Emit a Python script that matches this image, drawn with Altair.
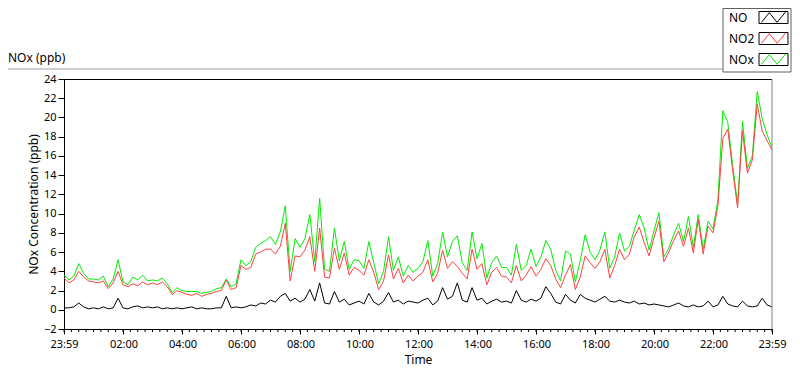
import altair as alt
import pandas as pd

# ---- data (10-minute samples, minutes since 23:59 of previous day) ----
minutes = list(range(0, 1441, 10))

no2 = [
    3.3, 2.8, 3.1, 4.0, 3.4, 3.0,
    2.9, 2.8, 3.0, 2.2, 2.8, 4.0,
    2.6, 2.4, 2.7, 2.5, 2.9, 2.6,
    2.8, 2.6, 2.9, 2.4, 1.6, 2.0,
    1.8, 1.6, 1.5, 1.7, 1.4, 1.6,
    1.7, 1.9, 2.0, 3.1, 2.1, 2.3,
    4.6, 4.2, 4.4, 5.8, 6.0, 6.3,
    6.3, 5.8, 6.6, 9.0, 3.0, 5.6,
    5.5, 6.2, 7.6, 4.0, 8.5, 3.4,
    3.3, 6.4, 4.2, 5.9, 3.6, 4.4,
    4.1, 3.6, 5.2, 3.9, 2.1, 3.0,
    5.7, 3.2, 4.3, 2.8, 3.6, 3.0,
    3.5, 3.9, 5.2, 2.9, 3.8, 6.2,
    4.3, 5.0, 4.5, 3.8, 3.2, 6.3,
    4.2, 4.8, 2.6, 3.9, 4.4, 3.5,
    3.4, 2.8, 4.6, 3.0, 3.6, 4.5,
    3.5, 4.2, 5.3, 4.6, 3.2, 2.3,
    3.6, 4.7, 2.1, 3.4, 5.6, 4.9,
    4.3, 5.0, 6.3, 3.3, 4.6, 6.3,
    5.2, 5.8, 7.6, 8.6, 7.0, 5.6,
    7.5, 9.2, 5.0, 6.0, 7.2, 8.2,
    6.6, 8.5, 5.9, 9.4, 5.8, 8.7,
    8.0, 10.8, 17.8, 18.8, 14.5, 10.6,
    18.6, 14.2, 15.6, 21.4, 18.6, 17.6, 16.6,
]

no = [
    0.2, 0.2, 0.3, 0.7, 0.3, 0.1,
    0.2, 0.1, 0.3, 0.1, 0.2, 1.2,
    0.2, 0.1, 0.3, 0.4, 0.2, 0.3,
    0.2, 0.3, 0.1, 0.2, 0.1, 0.2,
    0.1, 0.2, 0.3, 0.1, 0.2, 0.1,
    0.1, 0.2, 0.2, 1.4, 0.2, 0.3,
    0.2, 0.3, 0.5, 0.4, 0.7, 0.6,
    1.0, 0.8, 1.4, 1.7, 0.9, 1.2,
    0.8, 1.1, 2.1, 0.9, 2.8, 0.7,
    0.6, 1.9, 0.8, 1.1, 0.5, 0.7,
    0.9, 0.6, 1.7, 0.8, 0.5, 0.9,
    1.8, 0.8, 1.0, 0.6, 0.9, 0.8,
    0.7, 1.0, 1.2, 0.5, 0.9, 2.3,
    1.1, 1.4, 2.8, 1.0, 0.8, 2.3,
    1.0, 1.2, 0.6, 0.9, 1.1, 0.8,
    0.9, 0.7, 2.0, 1.0, 0.8, 1.1,
    0.9, 1.2, 2.4, 1.7, 0.8, 0.6,
    1.6, 1.0, 0.7, 1.6, 1.2, 1.0,
    0.8, 1.1, 1.4, 0.9, 0.8, 1.0,
    0.8, 0.7, 0.9, 0.6, 0.7, 0.5,
    0.6, 0.5, 0.4, 0.3, 0.5, 0.7,
    0.4, 0.3, 0.5, 0.3, 0.4, 0.9,
    0.3, 0.5, 1.4, 0.6, 0.4, 0.3,
    0.9, 0.4, 0.3, 0.4, 1.2, 0.5, 0.3,
]

nox = [
    3.6, 3.1, 3.5, 4.8, 3.8, 3.2,
    3.2, 3.1, 3.5, 2.4, 3.2, 5.2,
    2.9, 2.6, 3.4, 3.1, 3.6, 3.0,
    3.1, 3.0, 3.3, 2.7, 1.8, 2.3,
    2.0, 1.9, 1.9, 1.9, 1.7, 1.8,
    1.9, 2.2, 2.3, 3.2, 2.4, 2.7,
    5.2, 4.6, 5.0, 6.5, 6.9, 7.2,
    7.6, 6.8, 8.1, 10.8, 4.0, 7.4,
    6.5, 7.4, 9.9, 5.0, 11.6, 4.2,
    4.0, 8.5, 5.1, 7.1, 4.2, 5.2,
    5.1, 4.3, 7.1, 4.9, 2.7, 4.0,
    7.6, 4.1, 5.5, 3.5, 4.6, 3.9,
    4.3, 5.0, 7.2, 3.5, 4.8, 8.1,
    5.5, 7.1, 7.7, 4.9, 4.1, 8.1,
    5.3, 6.9, 3.3, 4.9, 5.6, 4.4,
    4.4, 3.6, 6.8, 4.1, 4.6, 6.3,
    4.5, 5.5, 7.2, 6.3, 4.1, 3.0,
    6.1, 5.8, 2.9, 5.1, 7.8, 6.0,
    5.2, 6.2, 8.1, 4.3, 5.5, 8.0,
    6.1, 6.6, 8.3, 9.9, 8.5, 6.2,
    8.2, 10.1, 5.5, 6.4, 7.8, 9.0,
    7.1, 9.7, 6.5, 9.9, 6.3, 9.2,
    8.4, 11.4, 20.7, 19.5, 15.0, 11.0,
    19.6, 14.7, 16.0, 22.7, 19.9, 18.2, 16.9,
]

series_names = ["NO", "NO2", "NOx"]
series_colors = ["#000000", "#ff4040", "#00ee00"]

tick_values = [0, 121, 241, 361, 481, 601, 721, 841, 961, 1081, 1201, 1321, 1440]
tick_labels = ["23:59", "02:00", "04:00", "06:00", "08:00", "10:00", "12:00",
               "14:00", "16:00", "18:00", "20:00", "22:00", "23:59"]
minor_ticks = list(range(0, 1441, 15))
y_ticks = list(range(-2, 25, 2))

FONT = "Noto Sans"
W, H = 708, 250

label_expr = ("[" + ",".join(f"'{s}'" for s in tick_labels) + "][indexof(["
              + ",".join(str(v) for v in tick_values) + "], datum.value)]")

x_enc = alt.X(
    "minute:Q",
    scale=alt.Scale(domain=[0, 1440], nice=False, zero=False),
    axis=alt.Axis(values=tick_values, labelExpr=label_expr, title="Time",
                  grid=False, tickSize=5, labelPadding=4, labelFontSize=11,
                  labelFont=FONT, titleFont=FONT, titleFontSize=12,
                  titleFontWeight="normal", titleY=30, titleBaseline="middle",
                  labelColor="black", titleColor="black", domainColor="black",
                  tickColor="black", labelFlush=False, labelOverlap=False),
)
y_enc = alt.Y(
    "value:Q",
    scale=alt.Scale(domain=[-2, 24], nice=False, zero=False),
    axis=alt.Axis(values=y_ticks, title="NOx Concentration (ppb)", grid=False,
                  tickSize=6, labelPadding=2, labelFontSize=11, labelFont=FONT,
                  titleFont=FONT, titleFontSize=12, titleFontWeight="normal",
                  titleX=-31, titleY=125, titleBaseline="middle", titleAlign="center",
                  labelColor="black", titleColor="black", domainColor="black",
                  tickColor="black", labelOverlap=False),
)


def series_df(values):
    return pd.DataFrame({"minute": minutes, "value": values})


layers = []
for vals, col in [(nox, series_colors[2]), (no2, series_colors[1]), (no, series_colors[0])]:
    layers.append(
        alt.Chart(series_df(vals)).mark_line(color=col, strokeWidth=1).encode(x=x_enc, y=y_enc)
    )

one = pd.DataFrame({"k": [0]})

# minor ticks on the time axis
layers.append(
    alt.Chart(pd.DataFrame({"minute": minor_ticks})).mark_rule(color="black", strokeWidth=1)
    .encode(x=x_enc, y=alt.value(H), y2=alt.value(H + 3))
)

# plot frame (top black, right gray)
layers.append(alt.Chart(one).mark_rule(color="black").encode(
    x=alt.value(-2), x2=alt.value(W), y=alt.value(0.5)))
layers.append(alt.Chart(one).mark_rule(color="#808080").encode(
    x=alt.value(W), y=alt.value(0), y2=alt.value(H)))

# panel top line and title
layers.append(alt.Chart(one).mark_rule(color="#a0a0a0").encode(
    x=alt.value(-56), x2=alt.value(659), y=alt.value(-10)))
layers.append(alt.Chart(one).mark_text(align="left", baseline="middle", font=FONT,
                                       fontSize=12, color="black", text="NOx (ppb)")
              .encode(x=alt.value(-56), y=alt.value(-21)))

# legend box
layers.append(alt.Chart(one).mark_rect(fill="white", stroke="#606060", strokeWidth=1).encode(
    x=alt.value(659), x2=alt.value(727), y=alt.value(-70.5), y2=alt.value(-7)))

zig = "M -1 0.4 L -0.35 -0.4 L 0.3 0.4 L 1 -0.45"
for name, col, yc in zip(series_names, series_colors, [-61.5, -40.5, -19.5]):
    layers.append(alt.Chart(one).mark_text(align="left", baseline="middle", font=FONT,
                                           fontSize=12, color="black", text=name)
                  .encode(x=alt.value(665), y=alt.value(yc)))
    layers.append(alt.Chart(one).mark_rect(fill="white", stroke="black", strokeWidth=1).encode(
        x=alt.value(695), x2=alt.value(724), y=alt.value(yc - 6), y2=alt.value(yc + 6)))
    layers.append(alt.Chart(one).mark_point(shape=zig, filled=False, size=576, color=col,
                                            strokeWidth=1, opacity=1)
                  .encode(x=alt.value(709.5), y=alt.value(yc)))

chart = alt.layer(*layers).properties(
    width=W, height=H,
    autosize=alt.AutoSizeParams(type="none"),
    padding={"left": 56, "top": 71, "right": 20, "bottom": 38},
    background="white",
).configure_view(stroke=None)

chart.save("out.html", embed_options={"renderer": "svg", "actions": False})
